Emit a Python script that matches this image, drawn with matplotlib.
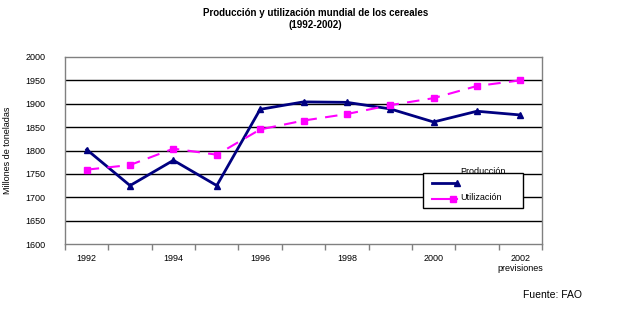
import numpy as np
import matplotlib.pyplot as plt
from matplotlib.patches import Rectangle
from matplotlib.lines import Line2D

years = [1992, 1993, 1994, 1995, 1996, 1997, 1998, 1999, 2000, 2001, 2002]
produccion = [1802, 1725, 1779, 1725, 1888, 1904, 1903, 1889, 1861, 1884, 1876]
utilizacion = [1759, 1769, 1804, 1791, 1845, 1864, 1878, 1897, 1912, 1938, 1950]
x_labels = ['1992', '1994', '1996', '1998', '2000', '2002\nprevisiones']
y_ticks = [1600, 1650, 1700, 1750, 1800, 1850, 1900, 1950, 2000]

plt.rcParams['font.family'] = ['Liberation Sans', 'DejaVu Sans']

fig = plt.figure(figsize=(6.31, 3.12), dpi=100)
W, H = 631, 312
# plot area in pixels: left 65, right 542, top 57, bottom 244
ax = fig.add_axes([65 / W, 1 - 244 / H, (542 - 65) / W, (244 - 57) / H])

x = np.arange(len(years))
ax.plot(x, produccion, color='#000080', lw=2, marker='^', ms=4.5, zorder=3)
ax.plot(x, utilizacion, color='#FF00FF', lw=1.5, ls=(0, (6, 4)), marker='s', ms=4.5, zorder=3)

ax.set_xlim(-0.5, len(years) - 0.5)
ax.set_ylim(1600, 2000)
ax.set_yticks(y_ticks)
ax.set_yticklabels([str(v) for v in y_ticks], fontsize=6.5)
ax.tick_params(axis='y', length=0, pad=14)
for v in y_ticks[1:-1]:
    ax.axhline(v, color='black', lw=1, zorder=1)

# tick marks at category boundaries, labels on every other year
ax.set_xticks(np.arange(-0.5, len(years)), minor=True)
ax.set_xticks(x[::2])
ax.set_xticklabels(x_labels, fontsize=6.5, va='top', linespacing=1.2)
ax.tick_params(axis='x', which='major', length=0, pad=7)
ax.tick_params(axis='x', which='minor', length=4, color='#808080', width=1)

for s in ax.spines.values():
    s.set_color('#808080')
    s.set_linewidth(1)

fig.text(0.5, 1 - 19 / H, 'Producción y utilización mundial de los cereales\n(1992-2002)',
         ha='center', va='center', fontsize=7, fontweight='bold', linespacing=1.2)
fig.text(8 / W, 1 - 150 / H, 'Millones de toneladas', rotation=90, ha='center', va='center',
         fontsize=6.5)
fig.text(523 / W, 1 - 295 / H, 'Fuente: FAO', ha='left', va='center', fontsize=7.5)

# legend box drawn by hand (label "Producción" sits on the top border like the original)
fig.patches.append(Rectangle((423 / W, 1 - 208 / H), 100 / W, 35.5 / H, transform=fig.transFigure,
                             facecolor='white', edgecolor='black', lw=1, zorder=5))
fig.lines.append(Line2D([432 / W, 457 / W], [1 - 183 / H] * 2, transform=fig.transFigure,
                        color='#000080', lw=2, marker='^', ms=4.5, markevery=[1], zorder=6))
fig.lines.append(Line2D([432 / W, 457 / W], [1 - 199 / H] * 2, transform=fig.transFigure,
                        color='#FF00FF', lw=1.5, zorder=6))
fig.lines.append(Line2D([453 / W], [1 - 199 / H], transform=fig.transFigure,
                        color='#FF00FF', marker='s', ms=4.5, zorder=6))
fig.text(460 / W, 1 - 172 / H, 'Producción', fontsize=6.5, va='center', zorder=7)
fig.text(460 / W, 1 - 198 / H, 'Utilización', fontsize=6.5, va='center', zorder=7)

fig.savefig('out.png', dpi=100)
